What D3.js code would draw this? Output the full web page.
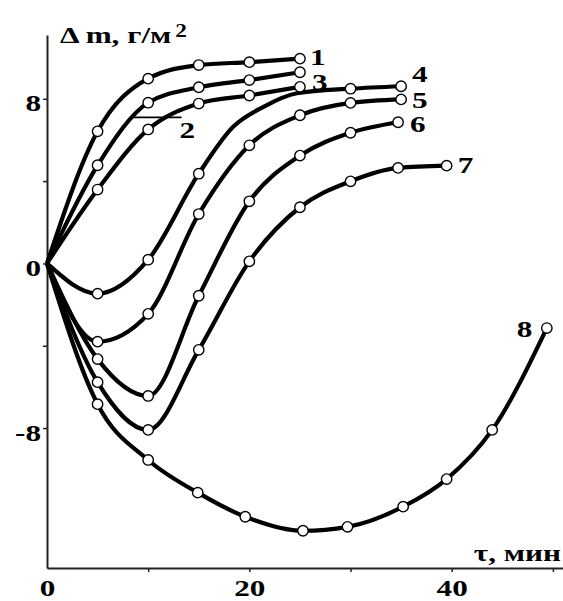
<!DOCTYPE html>
<html>
<head>
<meta charset="utf-8">
<script src="https://cdn.jsdelivr.net/npm/d3@7"></script>
<style>
body { margin: 0; background: #fff; }
svg text { font-family: "Liberation Serif", "Times New Roman", serif; font-weight: bold; fill: #000; }
</style>
</head>
<body>
<div id="chart"></div>
<script>
/* -----------------------
data (tau, min  /  delta m, g/m2)
------------------------- */

var curveNames = ["1", "2", "3", "4", "5", "6", "7", "8"];

var tau1 = [0, 5, 10, 15, 20, 25];
var dm1  = [0, 6.42, 8.98, 9.64, 9.78, 9.95];
var tau2 = [0, 5, 10, 15, 20, 25];
var dm2  = [0, 4.77, 7.81, 8.56, 8.91, 9.29];
var tau3 = [0, 5, 10, 15, 20, 25];
var dm3  = [0, 3.59, 6.51, 7.77, 8.16, 8.58];
var tau4 = [0, 5, 10, 15, 18.4, 21.4, 24.7, 30, 35];
var dm4  = [0, -1.47, 0.18, 4.36, 6.64, 7.61, 8.27, 8.49, 8.61];
var tau5 = [0, 5, 10, 15, 20, 25, 30, 35];
var dm5  = [0, -3.8, -2.45, 2.4, 5.74, 7.2, 7.8, 7.97];
var tau6 = [0, 5, 10, 15, 20, 25, 30, 34.7];
var dm6  = [0, -4.65, -6.44, -1.57, 3.02, 5.24, 6.35, 6.86];
var tau7 = [0, 5, 10, 15, 20, 25, 30, 34.7, 39.5];
var dm7  = [0, -5.77, -8.09, -4.2, 0.1, 2.73, 3.99, 4.64, 4.75];
var tau8 = [0, 5, 10, 14.9, 19.6, 25.3, 29.7, 35.2, 39.5, 44, 49.4];
var dm8  = [0, -6.84, -9.55, -11.14, -12.31, -12.99, -12.8, -11.82, -10.48, -8.09, -3.14];

// points of curve 4 that carry no circle
var unmarked4 = [18.4, 21.4, 24.7];

var xTicks = [0, 10, 20, 30, 40, 50];
var xTickLabels = ["0", "", "20", "", "40", ""];
var yTicks = [-8, -4, 0, 4, 8];
var yTickLabels = ["-8", "", "0", "", "8"];

var yTitle = "\u0394 m, \u0433/\u043c";
var xTitle = "\u03c4, \u043c\u0438\u043d";

/* -----------------------
main variables
------------------------- */

var width = 563;
var height = 601;
var sx = 1.3; // the original lettering is stretched sideways
var font = "Liberation Serif";

var taus = [tau1, tau2, tau3, tau4, tau5, tau6, tau7, tau8];
var dms = [dm1, dm2, dm3, dm4, dm5, dm6, dm7, dm8];
var unmarked = [[], [], [], unmarked4, [], [], [], []];

var curves = curveNames.map(function (name, i) {
	return {
		name: name,
		points: taus[i].map(function (t, j) { return {t: t, v: dms[i][j]}; })
	};
});

// label offsets from the last point of each curve (px)
var labelOff = {
	"1": [10, 6.5], "3": [12, 3], "4": [11, -4], "5": [11, 9],
	"6": [12, 10], "7": [11, 7], "8": [-30, 9]
};

/* -----------------------
set plot
------------------------- */

var svg = d3.select("#chart")
	.append("svg")
	.attr("width", width)
	.attr("height", height)
	.attr("font-family", font)
	.attr("font-weight", "bold");

var x = d3.scaleLinear().domain([0, 51]).range([47, 563]);
var y = d3.scaleLinear().domain([-14.8, 11.1]).range([568, 35]);

/* --- axes --- */

var xAxis = svg.append("g")
	.attr("transform", "translate(0," + y(-14.8) + ")")
	.call(d3.axisBottom(x)
		.tickValues(xTicks)
		.tickFormat(function (d, i) { return xTickLabels[i]; })
		.tickSize(4).tickSizeOuter(0).tickPadding(7));

var yAxis = svg.append("g")
	.attr("transform", "translate(" + x(0) + ",0)")
	.call(d3.axisLeft(y)
		.tickValues(yTicks)
		.tickFormat(function (d, i) { return yTickLabels[i]; })
		.tickSize(4).tickSizeOuter(0).tickPadding(1));

[xAxis, yAxis].forEach(function (ax) {
	ax.attr("font-family", font).attr("font-size", 24);
	ax.select(".domain").attr("stroke", "#222").attr("stroke-width", 2);
	ax.selectAll(".tick line").attr("stroke", "#222").attr("stroke-width", 1.5);
	ax.selectAll("text").attr("fill", "#000");
});

xAxis.selectAll(".tick").filter(function (d) { return d === 0; }).select("line").remove();
xAxis.selectAll("text").attr("transform", "scale(" + sx + ",1)");
yAxis.selectAll("text")
	.attr("x", -6 / sx)
	.attr("dy", "0.5em")
	.attr("transform", "scale(" + sx + ",1)");

/* --- axis titles --- */

var yt = svg.append("g")
	.attr("transform", "translate(60,43)")
	.append("text")
	.attr("transform", "scale(" + sx + ",1)")
	.attr("font-size", 24)
	.text(yTitle);
yt.append("tspan")
	.attr("dx", 3)
	.attr("dy", -6)
	.attr("font-size", 18)
	.text("2");

svg.append("g")
	.attr("transform", "translate(561,561)")
	.append("text")
	.attr("text-anchor", "end")
	.attr("transform", "scale(" + sx + ",1)")
	.attr("font-size", 24)
	.text(xTitle);

/* --- curves --- */

var line = d3.line()
	.x(function (d) { return x(d.t); })
	.y(function (d) { return y(d.v); })
	.curve(d3.curveMonotoneX);

var plot = svg.append("g");

plot.selectAll(".curve")
	.data(curves)
	.enter()
	.append("path")
	.attr("class", "curve")
	.attr("d", function (d) { return line(d.points); })
	.attr("fill", "none")
	.attr("stroke", "#000")
	.attr("stroke-width", 4.2)
	.attr("stroke-linejoin", "round");

curves.forEach(function (c, i) {
	var pts = c.points.filter(function (p) {
		return p.t > 0 && unmarked[i].indexOf(p.t) < 0;
	});
	plot.selectAll(".m" + i)
		.data(pts)
		.enter()
		.append("circle")
		.attr("class", "m" + i)
		.attr("cx", function (d) { return x(d.t); })
		.attr("cy", function (d) { return y(d.v); })
		.attr("r", 5.2)
		.attr("fill", "#fff")
		.attr("stroke", "#000")
		.attr("stroke-width", 1.4);
});

/* --- curve labels --- */

curves.forEach(function (c) {
	var off = labelOff[c.name];
	if (!off) return;
	var last = c.points[c.points.length - 1];
	svg.append("g")
		.attr("transform", "translate(" + (x(last.t) + off[0]) + "," + (y(last.v) + off[1]) + ")")
		.append("text")
		.attr("transform", "scale(" + sx + ",1)")
		.attr("font-size", 24)
		.text(c.name);
});

// curve 2 is marked with a short leader line
var lead = {t0: 8.5, t1: 13.3, v: 7.1};
svg.append("line")
	.attr("x1", x(lead.t0)).attr("x2", x(lead.t1))
	.attr("y1", y(lead.v)).attr("y2", y(lead.v))
	.attr("stroke", "#000")
	.attr("stroke-width", 1.8);
svg.append("g")
	.attr("transform", "translate(" + (x(lead.t1) - 2) + "," + (y(lead.v) + 21) + ")")
	.append("text")
	.attr("transform", "scale(" + sx + ",1)")
	.attr("font-size", 24)
	.text("2");
</script>
</body>
</html>
